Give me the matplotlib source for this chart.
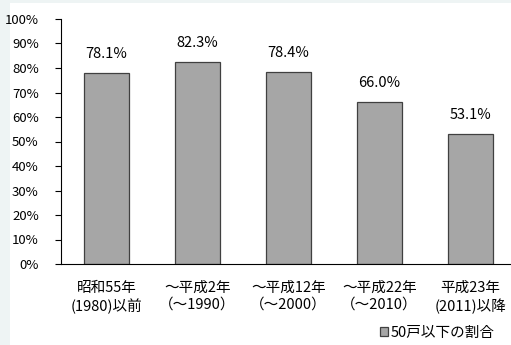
import matplotlib.pyplot as plt
from matplotlib.patches import Rectangle

plt.rcParams['font.family'] = ['Noto Sans CJK JP', 'DejaVu Sans']

categories = ['昭和55年\n(1980)以前', '～平成2年\n（～1990）', '～平成12年\n（～2000）',
              '～平成22年\n（～2010）', '平成23年\n(2011)以降']
values = [78.1, 82.3, 78.4, 66.0, 53.1]
series_name = '50戸以下の割合'

fig = plt.figure(figsize=(5.11, 3.45), dpi=100, facecolor='#eef4f4')
fig.patches.append(Rectangle((10 / 511, 0), 1, 1 - 3 / 345, transform=fig.transFigure,
                             facecolor='white', edgecolor='none', zorder=-5))

ax = fig.add_axes([61 / 511, 1 - 264 / 345, 455 / 511, 245 / 345])
ax.set_facecolor('none')
x = range(len(categories))
bars = ax.bar(x, values, width=0.5, color='#a6a6a6', edgecolor='#404040', linewidth=0.9,
              label=series_name)
for xi, v in zip(x, values):
    ax.text(xi, v + 7.8, f'{v:.1f}%', ha='center', va='center', fontsize=10.5)

ax.set_xlim(-0.5, 4.5)
ax.set_ylim(0, 100)
ax.set_yticks(range(0, 101, 10))
ax.set_yticklabels([f'{t}%' for t in range(0, 101, 10)], fontsize=9.5)
ax.set_xticks(list(x))
ax.set_xticklabels(categories, fontsize=10.5, linespacing=1.3)
ax.tick_params(axis='x', length=0, pad=12)
ax.tick_params(axis='y', length=4, direction='out', color='black', pad=12)
for s in ['top', 'right']:
    ax.spines[s].set_visible(False)
ax.spines['left'].set_color('black')
ax.spines['bottom'].set_color('black')

fig.legend(handles=[bars], labels=[series_name], loc='center right',
           bbox_to_anchor=(502 / 511, 1 - 333 / 345), frameon=False, fontsize=10.5,
           handlelength=0.55, handleheight=0.55, handletextpad=0.2, borderpad=0)

fig.savefig('out.png', dpi=100, facecolor=fig.get_facecolor())
